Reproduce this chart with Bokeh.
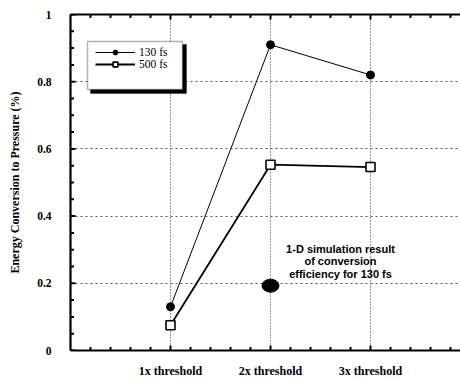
from bokeh.plotting import figure
from bokeh.models import (Range1d, LinearAxis, FixedTicker, Legend, LegendItem,
                          Label, BoxAnnotation)
from bokeh.embed import file_html
from bokeh.resources import INLINE

# ---- data ----
x_pos = [1, 2, 3]
x_labels = ["1x threshold", "2x threshold", "3x threshold"]
series_130fs = [0.13, 0.91, 0.82]
series_500fs = [0.075, 0.553, 0.546]
sim_x = [2]
sim_y = [0.193]
y_ticks = [0, 0.2, 0.4, 0.6, 0.8, 1.0]
y_labels = ["0", "0.2", "0.4", "0.6", "0.8", "1"]
legend_labels = ["130 fs", "500 fs"]
sim_text = "1-D simulation result\nof conversion\nefficiency for 130 fs"

SERIF = "Liberation Serif"
SANS = "Liberation Sans"
X0, X1, Y0, Y1 = 0, 3.9, 0, 1
W, H, BL, BT, BB = 460, 380, 70, 14, 28
PX_X = (X1 - X0) / (W - BL)        # data units per pixel, x
PX_Y = (Y1 - Y0) / (H - BT - BB)   # data units per pixel, y

p = figure(width=W, height=H, output_backend="svg", toolbar_location=None,
           x_range=Range1d(X0, X1), y_range=Range1d(Y0, Y1),
           min_border_left=BL, min_border_top=BT, min_border_right=0,
           min_border_bottom=BB)
p.outline_line_color = "white"
p.outline_line_width = 0.5

x_minor = [round(0.2 * i, 2) for i in range(1, 20) if i % 5 != 0]
y_minor = [round(0.05 * i, 2) for i in range(1, 20) if i % 4 != 0]

xb = p.below[0]
yl = p.left[0]
xb.ticker = FixedTicker(ticks=x_pos)
xb.major_label_overrides = {k: v for k, v in zip(x_pos, x_labels)}
yl.ticker = FixedTicker(ticks=y_ticks)
yl.major_label_overrides = {k: v for k, v in zip(y_ticks, y_labels)}
yl.axis_label = "Energy Conversion to Pressure (%)"

xa = LinearAxis(ticker=FixedTicker(ticks=[]))
p.add_layout(xa, "above")

for ax in (xb, yl, xa):
    ax.axis_line_width = 2.2
    ax.axis_line_color = "black"
    ax.major_tick_in = 0
    ax.major_tick_out = 0
    ax.minor_tick_in = 0
    ax.minor_tick_out = 0
    ax.major_label_text_font = SERIF
    ax.major_label_text_font_style = "bold"
    ax.major_label_text_color = "black"

xb.major_label_text_font_size = "12px"
xb.major_label_standoff = 13
yl.major_label_text_font_size = "11.5px"
yl.major_label_standoff = 19
yl.axis_label_text_font = SERIF
yl.axis_label_text_font_style = "bold"
yl.axis_label_text_font_size = "12px"
yl.axis_label_text_color = "black"
yl.axis_label_standoff = 12

# dotted grid
p.xgrid.ticker = FixedTicker(ticks=x_pos)
p.xgrid.grid_line_color = "#333333"
p.xgrid.grid_line_dash = "1 2"
p.ygrid.ticker = FixedTicker(ticks=[0.2, 0.4, 0.6, 0.8])
p.ygrid.grid_line_color = "#555555"
p.ygrid.grid_line_dash = "2 3"

# series
l1 = p.line(x_pos, series_130fs, line_color="black", line_width=1)
c1 = p.scatter(x_pos, series_130fs, marker="circle", size=8, fill_color="black",
               line_color="black")
l2 = p.line(x_pos, series_500fs, line_color="black", line_width=1.8)
c2 = p.scatter(x_pos, series_500fs, marker="square", size=9, fill_color="white",
               line_color="black", line_width=1.6)

# simulation point
p.ellipse(sim_x, sim_y, width=17, height=13, width_units="screen",
          height_units="screen", fill_color="black", line_color="black")

# inward tick marks, drawn as short segments from the tick positions
MAJ, MIN = 5, 3.5
def xticks(xs, yv, n, sign):
    p.segment(xs, [yv] * len(xs), xs, [yv + sign * n * PX_Y] * len(xs),
              line_color="black", line_width=2)

def yticks(ys, xv, n):
    p.segment([xv] * len(ys), ys, [xv + n * PX_X] * len(ys), ys,
              line_color="black", line_width=2)

xticks(x_pos, Y0, MAJ, 1)
xticks(x_minor, Y0, MIN, 1)
xticks(x_pos, Y1, MAJ, -1)
xticks(x_minor, Y1, MIN, -1)
yticks(y_ticks, X0, MAJ)
yticks(y_minor, X0, MIN)

# legend frame with drop shadow
p.add_layout(BoxAnnotation(left=90, right=186, top=44, bottom=93,
                           left_units="canvas", right_units="canvas",
                           top_units="canvas", bottom_units="canvas",
                           fill_color="black", fill_alpha=1,
                           line_color="black", line_width=1))
p.add_layout(BoxAnnotation(left=87, right=182, top=41, bottom=89,
                           left_units="canvas", right_units="canvas",
                           top_units="canvas", bottom_units="canvas",
                           fill_color="white", fill_alpha=1, line_color="black",
                           line_width=1.5))

p.add_layout(Label(x=2.7, y=0.266, text=sim_text, text_align="center",
                   text_baseline="middle", text_font=SANS, text_font_style="bold",
                   text_font_size="11px", text_line_height=1.05, text_color="black"))

legend = Legend(items=[LegendItem(label=legend_labels[0], renderers=[l1, c1]),
                       LegendItem(label=legend_labels[1], renderers=[l2, c2])],
                location=(25, 280), border_line_color=None, background_fill_alpha=0,
                label_text_font=SERIF, label_text_font_size="11.5px",
                label_text_color="black",
                label_height=12, glyph_height=12, glyph_width=40, spacing=0,
                padding=2, margin=0, label_standoff=4)
p.add_layout(legend)

open("out.html", "w").write(file_html(p, INLINE))
